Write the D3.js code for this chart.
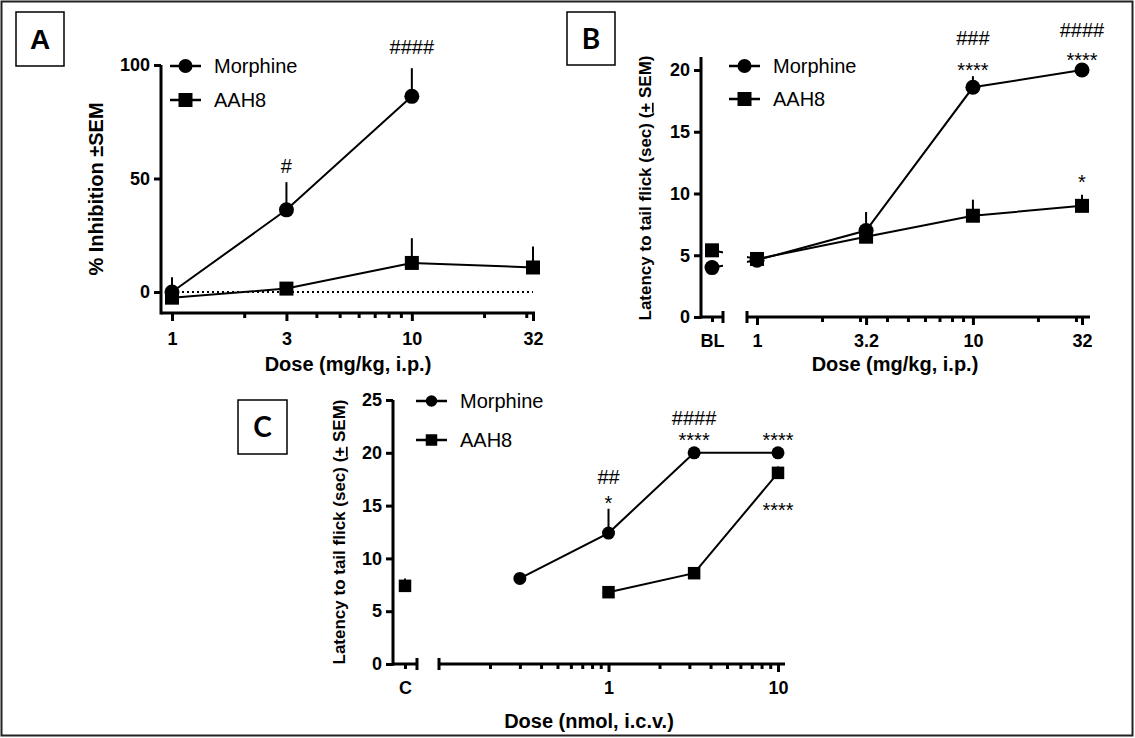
<!DOCTYPE html>
<html>
<head>
<meta charset="utf-8">
<script src="https://cdn.jsdelivr.net/npm/d3@7"></script>
<style>
  body { margin: 0; background: #fff; }
  svg { font-family: "Liberation Sans", Arial, Helvetica, sans-serif; }
  .axis text { font-size: 18px; font-weight: bold; fill: #000; }
  .axis line { stroke: #000; stroke-width: 3; }
</style>
</head>
<body>
<svg id="fig" width="1135" height="738"></svg>
<script>
// ---- panel A: % inhibition ----
var aMorphineDose = [1, 3, 10],
    aMorphineMean = [0, 36.2, 86.2],
    aMorphineSem  = [6.5, 12.2, 12.4],
    aAah8Dose = [1, 3, 10, 32],
    aAah8Mean = [-2.5, 1.5, 12.8, 10.8],
    aAah8Sem  = [0, 0, 10.9, 9.2],
    aXTicks = [1, 3, 10, 32],
    aXMinor = [2, 4, 5, 6, 7, 8, 9, 20, 30],
    aYTicks = [0, 50, 100],
    aMarkDose  = [3, 10],
    aMarkLevel = [55.5, 108],
    aMarkText  = ["#", "####"];

// ---- panel B: tail flick, i.p. ----
var bDose = [1, 3.2, 10, 32],
    bMorphineMean = [4.6, 7.0, 18.6, 20.0],
    bMorphineSem  = [0.3, 1.5, 0.9, 0],
    bAah8Mean = [4.7, 6.5, 8.2, 9.0],
    bAah8Sem  = [0.3, 0.4, 1.3, 0.9],
    bBaselineMorphine = 4.0,
    bBaselineAah8 = 5.4,
    bXTicks = [1, 3.2, 10, 32],
    bXMinor = [2, 3, 4, 5, 6, 7, 8, 9, 20, 30],
    bYTicks = [0, 5, 10, 15, 20],
    bMarkDose  = [10, 32, 10, 32, 32],
    bMarkLevel = [22.6, 23.2, 20.4, 21.2, 11.3],
    bMarkText  = ["###", "####", "****", "****", "*"];

// ---- panel C: tail flick, i.c.v. ----
var cMorphineDose = [0.3, 1, 3.2, 10],
    cMorphineMean = [8.1, 12.4, 20, 20],
    cMorphineSem  = [0.4, 2.3, 0, 0],
    cAah8Dose = [1, 3.2, 10],
    cAah8Mean = [6.8, 8.6, 18.1],
    cAah8Sem  = [0.3, 0, 0.6],
    cControlAah8 = 7.4,
    cControlAah8Sem = 0.7,
    cXTicks = [1, 10],
    cXMinor = [0.2, 0.3, 0.4, 0.5, 0.6, 0.7, 0.8, 0.9, 2, 3, 4, 5, 6, 7, 8, 9],
    cYTicks = [0, 5, 10, 15, 20, 25],
    cMarkDose  = [1, 1, 3.2, 3.2, 10, 10],
    cMarkLevel = [17.7, 15.7, 23.3, 21.6, 21.6, 15.0],
    cMarkText  = ["##", "*", "####", "****", "****", "****"];

var svg = d3.select("#fig");

svg.append("rect")
  .attr("x", 1.5).attr("y", 1.5).attr("width", 1131).attr("height", 734)
  .attr("fill", "none").attr("stroke", "#222").attr("stroke-width", 2);

function zip(dose, mean, sem) {
  return dose.map(function(d, i) { return {dose: d, mean: mean[i], sem: sem ? sem[i] : 0}; });
}

function panelBox(x, y, w, h, letter, font) {
  svg.append("rect").attr("x", x).attr("y", y).attr("width", w).attr("height", h)
    .attr("fill", "none").attr("stroke", "#000").attr("stroke-width", 1.5);
  svg.append("text").attr("x", x + w / 2).attr("y", y + h / 2).attr("dy", "0.36em")
    .attr("text-anchor", "middle").style("font-size", "28px").style("font-weight", "bold")
    .style("font-family", font || null)
    .text(letter);
}

function yAxis(y, x0, ticks, top) {
  svg.append("g").attr("class", "axis").attr("transform", "translate(" + x0 + ",0)")
    .call(d3.axisLeft(y).tickValues(ticks).tickSize(7).tickPadding(4))
    .call(function(a) { a.select(".domain").remove(); });
  svg.append("line").attr("x1", x0).attr("x2", x0)
    .attr("y1", y(y.domain()[0]) + 1.5).attr("y2", top)
    .attr("stroke", "#000").attr("stroke-width", 3);
}

function xAxis(x, y0, major, labels, minor, pad, xStart, xEnd) {
  svg.append("g").attr("class", "axis").attr("transform", "translate(0," + y0 + ")")
    .call(d3.axisBottom(x).tickValues(minor).tickSize(5).tickFormat(""))
    .call(function(a) { a.select(".domain").remove(); });
  svg.append("g").attr("class", "axis").attr("transform", "translate(0," + y0 + ")")
    .call(d3.axisBottom(x).tickValues(major).tickSize(8).tickPadding(pad)
      .tickFormat(function(d, i) { return labels[i]; }))
    .call(function(a) { a.select(".domain").remove(); });
  svg.append("line").attr("x1", xStart).attr("x2", xEnd).attr("y1", y0).attr("y2", y0)
    .attr("stroke", "#000").attr("stroke-width", 3);
}

function cap(x, y0) {
  svg.append("line").attr("x1", x).attr("x2", x).attr("y1", y0 - 6).attr("y2", y0 + 6)
    .attr("stroke", "#000").attr("stroke-width", 3);
}

function axisTitle(x, y, txt) {
  svg.append("text").attr("x", x).attr("y", y).attr("text-anchor", "middle")
    .style("font-size", "20px").style("font-weight", "bold").text(txt);
}

function yTitle(x, y, size, parts) {
  var t = svg.append("text").attr("transform", "translate(" + x + "," + y + ") rotate(-90)")
    .attr("text-anchor", "middle").attr("dy", "0.35em")
    .style("font-size", size + "px").style("font-weight", "bold");
  parts.forEach(function(p) {
    var s = t.append("tspan").text(p.text);
    if (p.under) s.style("text-decoration", "underline");
  });
}

function symbolPath(shape, side) {
  return shape === "circle"
    ? d3.symbol(d3.symbolCircle, Math.PI * side * side / 4)()
    : d3.symbol(d3.symbolSquare, side * side)();
}

function series(x, y, data, shape, side, clip) {
  var line = d3.line().x(function(d) { return x(d.dose); }).y(function(d) { return y(d.mean); });
  var p = svg.append("path").datum(data).attr("d", line)
    .attr("fill", "none").attr("stroke", "#000").attr("stroke-width", 2);
  if (clip) p.attr("clip-path", "url(#" + clip + ")");
  dots(x, y, data, shape, side);
}

function dots(x, y, data, shape, side) {
  svg.append("g").selectAll("line").data(data.filter(function(d) { return d.sem > 0; }))
    .enter().append("line")
    .attr("x1", function(d) { return x(d.dose); }).attr("x2", function(d) { return x(d.dose); })
    .attr("y1", function(d) { return y(d.mean); }).attr("y2", function(d) { return y(d.mean + d.sem); })
    .attr("stroke", "#000").attr("stroke-width", 2);
  svg.append("g").selectAll("path").data(data).enter().append("path")
    .attr("d", symbolPath(shape, side))
    .attr("transform", function(d) { return "translate(" + x(d.dose) + "," + y(d.mean) + ")"; })
    .attr("fill", "#000");
}

function legend(x0, yTop, yBot, side) {
  [["Morphine", "circle", yTop], ["AAH8", "square", yBot]].forEach(function(r) {
    svg.append("line").attr("x1", x0).attr("x2", x0 + 31).attr("y1", r[2]).attr("y2", r[2])
      .attr("stroke", "#000").attr("stroke-width", 2.5);
    svg.append("path").attr("d", symbolPath(r[1], side))
      .attr("transform", "translate(" + (x0 + 15.5) + "," + r[2] + ")").attr("fill", "#000");
    svg.append("text").attr("x", x0 + 44).attr("y", r[2]).attr("dy", "0.35em")
      .style("font-size", "20px").text(r[0]);
  });
}

function marks(x, y, dose, level, text) {
  svg.append("g").selectAll("text").data(dose).enter().append("text")
    .attr("x", function(d) { return x(d); })
    .attr("y", function(d, i) { return y(level[i]) + (text[i].indexOf("#") >= 0 ? 7 : 11.5); })
    .attr("text-anchor", "middle").style("font-size", "20px")
    .text(function(d, i) { return text[i]; });
}

// ================= Panel A =================
var xA = d3.scaleLog().domain([1, 32]).range([172, 533]);
var yA = d3.scaleLinear().domain([-9.25, 100]).range([313, 65]);

panelBox(16, 12, 48, 54, "A");
yAxis(yA, 161, aYTicks, 65);
xAxis(xA, 313, aXTicks, aXTicks.map(String), aXMinor, 11, 161, 535);
svg.append("line").attr("x1", xA(1)).attr("x2", xA(32)).attr("y1", yA(0)).attr("y2", yA(0))
  .attr("stroke", "#000").attr("stroke-width", 2).attr("stroke-dasharray", "2,3");
series(xA, yA, zip(aAah8Dose, aAah8Mean, aAah8Sem), "square", 14);
series(xA, yA, zip(aMorphineDose, aMorphineMean, aMorphineSem), "circle", 15);
legend(170, 66, 100, 14);
marks(xA, yA, aMarkDose, aMarkLevel, aMarkText);
yTitle(96, 189, 20, [{text: "% Inhibition \u00b1SEM"}]);
axisTitle(348, 371, "Dose (mg/kg, i.p.)");

// ================= Panel B =================
var xB = d3.scaleLog().domain([1, 32]).range([757, 1082]);
var xBL = d3.scalePoint().domain(["BL"]).range([701, 723]).padding(0.5);
var yB = d3.scaleLinear().domain([0, 20]).range([317, 70]);

panelBox(567, 12, 48, 53, "B", "Lato, 'Open Sans', sans-serif");
yAxis(yB, 701, bYTicks, 57);
svg.append("g").attr("class", "axis").attr("transform", "translate(0,317)")
  .call(d3.axisBottom(xBL).tickSize(5).tickPadding(12))
  .call(function(a) { a.select(".domain").remove(); });
svg.append("line").attr("x1", 701).attr("x2", 723).attr("y1", 317).attr("y2", 317)
  .attr("stroke", "#000").attr("stroke-width", 3);
cap(723, 317);
xAxis(xB, 317, bXTicks, bXTicks.map(String), bXMinor, 9, 747, 1090);
cap(747, 317);

var clip = svg.append("defs").append("clipPath").attr("id", "clipB");
clip.append("rect").attr("x", 701).attr("y", 0).attr("width", 22).attr("height", 400);
clip.append("rect").attr("x", 747).attr("y", 0).attr("width", 360).attr("height", 400);

// the baseline point sits on its own axis piece; a proxy dose puts it there
var blDose = xB.invert(xBL("BL"));
series(xB, yB, [{dose: blDose, mean: bBaselineAah8, sem: 0}].concat(zip(bDose, bAah8Mean, bAah8Sem)), "square", 14, "clipB");
series(xB, yB, [{dose: blDose, mean: bBaselineMorphine, sem: 0}].concat(zip(bDose, bMorphineMean, bMorphineSem)), "circle", 15, "clipB");
legend(729, 66, 99, 14);
marks(xB, yB, bMarkDose, bMarkLevel, bMarkText);
yTitle(645, 188, 17, [{text: "Latency to tail flick (sec) ("}, {text: "+", under: true}, {text: " SEM)"}]);
axisTitle(895, 371, "Dose (mg/kg, i.p.)");

// ================= Panel C =================
var xC = d3.scaleLog().domain([0.1, 10]).range([439, 778]);
var xCtl = d3.scalePoint().domain(["C"]).range([393, 417]).padding(0.6);
var yC = d3.scaleLinear().domain([0, 25]).range([664, 400]);

panelBox(238, 400, 49, 54, "C", "Lato, 'Open Sans', sans-serif");
yAxis(yC, 393, cYTicks, 400);
svg.append("g").attr("class", "axis").attr("transform", "translate(0,664)")
  .call(d3.axisBottom(xCtl).tickSize(5).tickPadding(12))
  .call(function(a) { a.select(".domain").remove(); });
svg.append("line").attr("x1", 393).attr("x2", 417).attr("y1", 664).attr("y2", 664)
  .attr("stroke", "#000").attr("stroke-width", 3);
cap(417, 664);
xAxis(xC, 664, cXTicks, cXTicks.map(String), cXMinor, 9, 439, 785);
cap(439, 664);

series(xC, yC, zip(cAah8Dose, cAah8Mean, cAah8Sem), "square", 12.5);
series(xC, yC, zip(cMorphineDose, cMorphineMean, cMorphineSem), "circle", 13);
dots(function() { return xCtl("C"); }, yC, [{dose: "C", mean: cControlAah8, sem: cControlAah8Sem}], "square", 12.5);
legend(416, 401, 440, 11.5);
marks(xC, yC, cMarkDose, cMarkLevel, cMarkText);
yTitle(339, 532, 17, [{text: "Latency to tail flick (sec) ("}, {text: "+", under: true}, {text: " SEM)"}]);
axisTitle(589, 728, "Dose (nmol, i.c.v.)");
</script>
</body>
</html>
